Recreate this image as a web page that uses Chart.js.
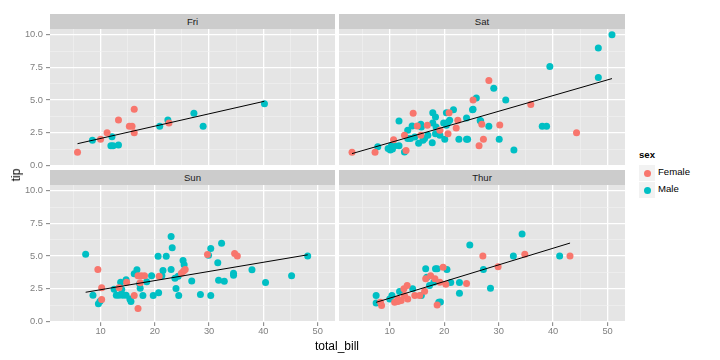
<!DOCTYPE html>
<html>
<head>
<meta charset="utf-8">
<script src="https://cdn.jsdelivr.net/npm/chart.js@4/dist/chart.umd.min.js"></script>
<style>
  body { margin: 0; background: #fff; font-family: "Liberation Sans", Arial, sans-serif; }
  #wrap { position: relative; width: 720px; height: 360px; overflow: hidden; }
  canvas { position: absolute; }
  .strip { position: absolute; background: #cccccc; color: #1a1a1a; font-size: 9.6px;
           text-align: center; line-height: 15px; height: 15px; }
  .txt { position: absolute; white-space: nowrap; }
  .key { position: absolute; width: 16px; height: 16px; background: #f2f2f2; border: 1px solid #fff; }
  .dot { position: absolute; left: 4.5px; top: 4.5px; width: 7px; height: 7px; border-radius: 50%; }
</style>
</head>
<body>
<div id="wrap">
  <div class="strip" style="left:50px;top:14px;width:285px;">Fri</div>
  <div class="strip" style="left:339px;top:14px;width:286px;">Sat</div>
  <div class="strip" style="left:50px;top:170px;width:285px;">Sun</div>
  <div class="strip" style="left:339px;top:170px;width:286px;">Thur</div>

  <canvas id="friChart" width="335" height="143" style="left:0;top:29px;"></canvas>
  <canvas id="satChart" width="286" height="143" style="left:339px;top:29px;"></canvas>
  <canvas id="sunChart" width="335" height="157" style="left:0;top:185px;"></canvas>
  <canvas id="thurChart" width="286" height="157" style="left:339px;top:185px;"></canvas>

  <div class="txt" style="left:16px;top:175px;font-size:12px;transform:translate(-50%,-50%) rotate(-90deg);">tip</div>
  <div class="txt" style="left:337px;top:346px;font-size:12px;transform:translate(-50%,-50%);">total_bill</div>

  <div class="txt" style="left:639px;top:149px;font-size:9.6px;font-weight:bold;">sex</div>
  <div class="key" style="left:638px;top:164px;"><div class="dot" style="background:#F8766D"></div></div>
  <div class="txt" style="left:658px;top:166px;font-size:9.6px;">Female</div>
  <div class="key" style="left:638px;top:181px;"><div class="dot" style="background:#00BFC4"></div></div>
  <div class="txt" style="left:658px;top:183px;font-size:9.6px;">Male</div>
</div>

<script>
// Points: [total_bill, tip]
const friFemale = [[5.75,1.0],[10.0,2.0],[11.2,2.5],[13.3,3.48],[15.3,3.0],[15.8,3.0],[16.2,4.3],[16.2,2.5],[22.6,3.25]];
const friMale = [[8.5,1.92],[12.1,2.2],[11.9,1.5],[12.3,1.5],[13.3,1.56],[20.9,3.0],[22.4,3.48],[27.2,4.0],[28.9,3.0],[40.2,4.73]];

const satFemale = [[3.07,1.0],[7.3,1.0],[10.7,1.97],[12.7,2.3],[13.0,1.13],[14.3,3.99],[15.05,3.02],[15.7,2.3],
  [16.9,3.07],[19.2,2.69],[20.9,4.04],[20.7,2.43],[22.2,2.86],[22.5,3.45],[25.3,5.0],[26.4,1.5],[27.2,2.0],
  [26.9,3.15],[28.2,6.5],[30.2,3.1],[35.9,4.67],[44.3,2.5]];
const satMale = [[7.8,1.43],[9.7,1.3],[10.1,1.17],[10.5,1.25],[10.3,1.5],[10.9,1.5],[11.7,3.4],[11.7,1.5],[12.7,1.02],
  [13.3,2.69],[13.8,2.05],[14.1,3.02],[15.7,3.15],[15.3,1.69],[16.4,2.05],[17.9,4.04],[18.4,3.71],[17.9,3.25],
  [17.8,1.74],[18.4,2.43],[19.9,3.25],[20.4,4.04],[21.7,4.27],[20.1,2.0],[22.7,2.0],[24.1,2.0],[24.3,2.0],
  [24.1,3.63],[25.2,4.27],[25.9,5.17],[26.7,3.4],[25.3,4.3],[26.6,3.43],[28.2,2.99],[29.1,5.91],[31.3,5.0],
  [30.1,2.0],[32.8,1.17],[38.0,3.0],[38.8,3.0],[39.4,7.58],[48.3,6.73],[48.3,9.0],[50.81,10.0],
  [13.3,2.05],[14.6,2.17],[15.8,2.94],[16.1,1.92],[17.0,2.3],[18.5,2.94],[19.2,2.3],[20.4,3.07],[20.7,3.3],[21.0,3.45]];

const sunFemale = [[9.5,3.98],[10.2,2.57],[10.2,1.67],[13.4,2.57],[14.8,3.0],[16.2,1.98],[16.9,0.98],[16.9,3.49],
  [17.5,3.49],[18.1,3.49],[17.3,2.95],[20.8,3.46],[24.9,3.69],[25.3,3.85],[25.6,3.98],[29.7,5.13],[34.7,5.2],[35.2,5.0]];
const sunMale = [[7.25,5.15],[8.6,2.0],[9.6,1.34],[9.9,1.54],[12.5,2.46],[13.7,3.0],[12.9,2.0],[13.4,2.0],[14.1,2.0],
  [14.7,2.0],[13.9,2.44],[14.7,3.18],[15.4,1.72],[15.6,1.52],[16.2,3.64],[16.7,3.95],[17.2,2.88],[17.3,2.54],
  [17.8,1.98],[18.5,3.03],[19.4,3.49],[19.7,1.98],[20.6,4.98],[22.1,4.98],[20.7,2.2],[21.5,3.9],[21.3,3.49],
  [23.0,6.5],[23.2,5.65],[23.0,3.98],[23.7,3.31],[24.3,3.46],[23.9,2.52],[24.4,1.98],[25.2,4.67],[25.4,4.34],
  [26.8,3.1],[28.4,2.05],[30.3,1.98],[29.9,5.07],[30.3,5.59],[32.3,5.98],[31.6,4.49],[31.75,3.15],[32.8,3.08],
  [34.5,3.69],[34.5,3.54],[37.9,3.95],[40.4,2.98],[45.2,3.49],[48.17,5.0]];

const thurFemale = [[8.5,1.21],[8.3,1.46],[10.9,1.46],[11.5,1.52],[12.1,1.6],[11.5,1.72],[12.6,2.49],[13.2,2.75],
  [12.7,1.98],[13.3,1.72],[14.6,1.98],[15.5,1.98],[16.4,2.31],[16.6,3.26],[18.3,3.26],[19.2,3.0],[19.8,4.15],
  [20.3,2.85],[18.7,1.26],[27.1,5.0],[34.8,5.15],[43.1,5.0],[29.9,4.18],[24.1,2.9],[17.5,3.5]];
const thurMale = [[7.5,1.98],[7.5,1.41],[10.0,1.72],[10.4,1.98],[11.8,2.28],[14.2,2.49],[15.8,1.98],[16.6,4.03],
  [18.4,4.03],[18.7,4.03],[16.8,3.38],[20.5,3.98],[19.0,1.46],[17.3,2.75],[18.1,3.0],[21.2,2.98],[22.8,2.98],
  [22.8,2.16],[24.7,5.85],[27.2,3.98],[28.5,2.54],[32.7,5.0],[34.3,6.7],[41.2,5.0],[19.3,1.49]];

// Fitted line end points: [x, y]
const friFit = [[5.75,1.66],[40.17,4.91]];
const satFit = [[3.07,0.9],[50.81,6.65]];
const sunFit = [[7.25,2.23],[48.17,5.1]];
const thurFit = [[7.51,1.46],[43.11,6.0]];

// Axis ticks (majors get a label, the rest are minor grid lines)
const xTicks = [5, 10, 15, 20, 25, 30, 35, 40, 45, 50];
const xMajor = [10, 20, 30, 40, 50];
const yTicks = [0, 1.25, 2.5, 3.75, 5, 6.25, 7.5, 8.75, 10];
const yMajor = [0, 2.5, 5, 7.5, 10];

const femaleColor = '#F8766D';
const maleColor = '#00BFC4';

Chart.defaults.font.family = '"Liberation Sans", Arial, sans-serif';

// Grey panel behind the plot area
const panelBg = {
    id: 'panelBg',
    beforeDraw(chart) {
        const a = chart.chartArea;
        const ctx = chart.ctx;
        ctx.save();
        ctx.fillStyle = '#e5e5e5';
        ctx.fillRect(a.left, a.top, a.right - a.left, a.bottom - a.top);
        ctx.restore();
    }
};

function toPoints(pairs) {
    return pairs.map(p => ({ x: p[0], y: p[1] }));
}

function makePanel(canvasId, female, male, fit, showX, showY) {
    const gridColor = (major) => ctx => major.includes(ctx.tick.value) ? '#ffffff' : '#f2f2f2';
    const gridWidth = (major) => ctx => major.includes(ctx.tick.value) ? 1.3 : 0.6;
    const tickColor = (major, show) => ctx => (show && major.includes(ctx.tick.value)) ? '#7f7f7f' : 'rgba(0,0,0,0)';

    new Chart(document.getElementById(canvasId), {
        type: 'scatter',
        data: {
            datasets: [
                {
                    type: 'line',
                    data: toPoints(fit),
                    borderColor: '#000000',
                    borderWidth: 1,
                    pointRadius: 0,
                    showLine: true,
                    fill: false
                },
                {
                    data: toPoints(female),
                    backgroundColor: femaleColor,
                    borderWidth: 0,
                    pointRadius: 3.5
                },
                {
                    data: toPoints(male),
                    backgroundColor: maleColor,
                    borderWidth: 0,
                    pointRadius: 3.5
                }
            ]
        },
        options: {
            responsive: false,
            animation: false,
            devicePixelRatio: 1,
            layout: { padding: 0, autoPadding: false },
            plugins: { legend: { display: false }, tooltip: { enabled: false } },
            scales: {
                x: {
                    type: 'linear',
                    min: 0.68,
                    max: 53.2,
                    afterBuildTicks: axis => { axis.ticks = xTicks.map(v => ({ value: v })); },
                    afterFit: axis => {
                        // bottom row keeps room for labels; top row keeps a little room for the "0.0" label
                        axis.height = showX ? 20 : 6;
                        axis.paddingLeft = 0; axis.paddingRight = 0;
                    },
                    border: { display: false },
                    grid: {
                        color: gridColor(xMajor),
                        lineWidth: gridWidth(xMajor),
                        drawTicks: showX,
                        tickLength: 4,
                        tickColor: tickColor(xMajor, showX),
                        tickWidth: 1
                    },
                    ticks: {
                        display: showX,
                        autoSkip: false,
                        maxRotation: 0,
                        padding: 0,
                        color: '#7f7f7f',
                        font: { size: 9.3 },
                        callback: v => xMajor.includes(v) ? String(v) : ''
                    }
                },
                y: {
                    type: 'linear',
                    min: -0.05,
                    max: 10.45,
                    afterBuildTicks: axis => { axis.ticks = yTicks.map(v => ({ value: v })); },
                    afterFit: axis => {
                        axis.width = showY ? 50 : 0;
                        axis.paddingTop = 0; axis.paddingBottom = 0;
                    },
                    border: { display: false },
                    grid: {
                        color: gridColor(yMajor),
                        lineWidth: gridWidth(yMajor),
                        drawTicks: showY,
                        tickLength: 4,
                        tickColor: tickColor(yMajor, showY),
                        tickWidth: 1
                    },
                    ticks: {
                        display: showY,
                        autoSkip: false,
                        padding: 3,
                        color: '#7f7f7f',
                        font: { size: 9.3 },
                        callback: v => yMajor.includes(v) ? v.toFixed(1) : ''
                    }
                }
            }
        },
        plugins: [panelBg]
    });
}

makePanel('friChart', friFemale, friMale, friFit, false, true);
makePanel('satChart', satFemale, satMale, satFit, false, false);
makePanel('sunChart', sunFemale, sunMale, sunFit, true, true);
makePanel('thurChart', thurFemale, thurMale, thurFit, true, false);
</script>
</body>
</html>
